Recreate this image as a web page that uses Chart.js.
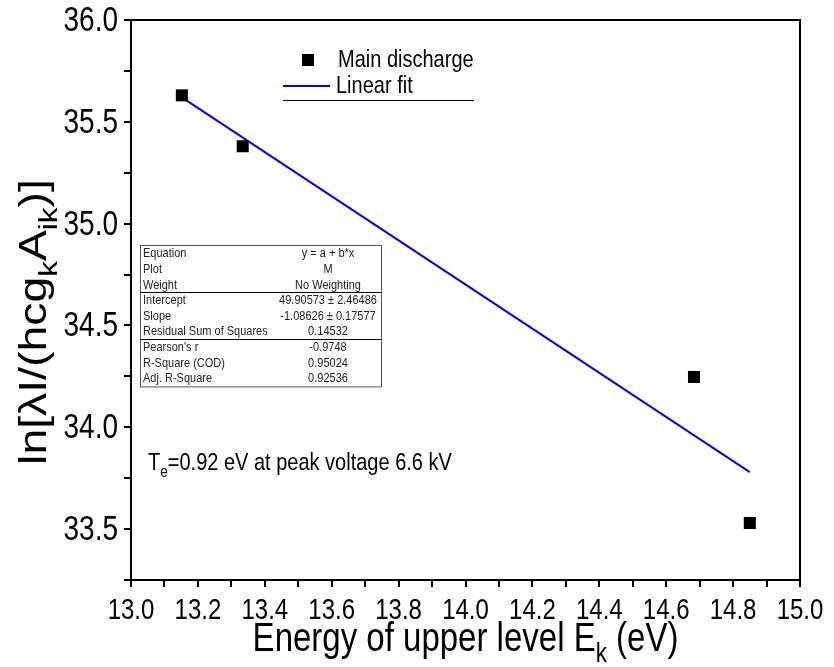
<!DOCTYPE html>
<html>
<head>
<meta charset="utf-8">
<script src="https://cdn.jsdelivr.net/npm/chart.js@4/dist/chart.umd.min.js"></script>
<style>
  html, body { margin: 0; padding: 0; background: #fff; }
  #wrap { width: 834px; height: 667px; }
</style>
</head>
<body>
<div id="wrap"><canvas id="myChart" width="834" height="667"></canvas></div>
<script>
// measured points
const energy = [13.152, 13.334, 14.683, 14.85];
const lnIntensity = [35.63, 35.38, 34.247, 33.53];
// fitted line ends
const fitEnergy = [13.152, 14.85];
const fitLn = [35.62, 33.78];

const xTickLabels = ['13.0', '13.2', '13.4', '13.6', '13.8', '14.0', '14.2', '14.4', '14.6', '14.8', '15.0'];
const yTickLabels = ['33.5', '34.0', '34.5', '35.0', '35.5', '36.0'];

const tableLabels = ['Equation', 'Plot', 'Weight', 'Intercept', 'Slope', 'Residual Sum of Squares', "Pearson's r", 'R-Square (COD)', 'Adj. R-Square'];
const tableValues = ['y = a + b*x', 'M', 'No Weighting', '49.90573 \u00b1 2.46486', '-1.08626 \u00b1 0.17577', '0.14532', '-0.9748', '0.95024', '0.92536'];

const FONT = '"Liberation Sans", Arial, sans-serif';
const STRETCH = 1.22; // the original picture's text is taller than wide

// draws text pieces (some subscript) at the current origin, returns width
const drawParts = (ctx, parts, x, y, size) => {
  parts.forEach(([txt, sub]) => {
    ctx.font = (sub ? size * 0.68 : size) + 'px ' + FONT;
    ctx.fillText(txt, x, sub ? y + size * 0.28 : y);
    x += ctx.measureText(txt).width;
  });
  return x;
};
const partsWidth = (ctx, parts, size) => {
  let w = 0;
  parts.forEach(([txt, sub]) => {
    ctx.font = (sub ? size * 0.68 : size) + 'px ' + FONT;
    w += ctx.measureText(txt).width;
  });
  return w;
};
// tall text: baseline at (x, y), stretched vertically
const tallText = (ctx, parts, x, y, size, align) => {
  const w = partsWidth(ctx, parts, size);
  let x0 = 0;
  if (align === 'center') x0 = -w / 2;
  if (align === 'right') x0 = -w;
  ctx.save();
  ctx.translate(x, y);
  ctx.scale(1, STRETCH);
  ctx.textAlign = 'left';
  drawParts(ctx, parts, x0, 0, size);
  ctx.restore();
};

const extras = {
  id: 'extras',
  afterDraw(chart) {
    const ctx = chart.ctx;
    const a = chart.chartArea;
    const xs = chart.scales.x, ys = chart.scales.y;
    ctx.save();
    ctx.fillStyle = '#000';
    ctx.textBaseline = 'alphabetic';

    // frame
    ctx.strokeStyle = '#000';
    ctx.lineWidth = 2;
    ctx.strokeRect(a.left, a.top, a.right - a.left, a.bottom - a.top);

    // tick labels
    xTickLabels.forEach((t) => {
      tallText(ctx, [[t, false]], xs.getPixelForValue(parseFloat(t)), 619, 24, 'center');
    });
    yTickLabels.forEach((t) => {
      tallText(ctx, [[t, false]], 118, ys.getPixelForValue(parseFloat(t)) + 11, 28, 'right');
    });

    // axis titles
    tallText(ctx, [['Energy of upper level E', false], ['k', true], [' (eV)', false]],
      (a.left + a.right) / 2, 651, 33, 'center');

    const yt = [['ln[\u03bbI/(hcg', false], ['k', true], ['A', false], ['ik', true], [')]', false]];
    const ysz = 38;
    const yw = partsWidth(ctx, yt, ysz) * STRETCH;
    ctx.save();
    ctx.translate(46, 322);
    ctx.rotate(-Math.PI / 2);
    ctx.translate(-yw / 2, 0);
    ctx.scale(STRETCH, 1);
    ctx.textAlign = 'left';
    drawParts(ctx, yt, 0, 0, ysz);
    ctx.restore();

    // legend
    ctx.fillRect(302, 54, 12, 12);
    tallText(ctx, [['Main discharge', false]], 338, 67, 20, 'left');
    ctx.strokeStyle = '#0000ee';
    ctx.lineWidth = 2;
    ctx.beginPath(); ctx.moveTo(283, 86); ctx.lineTo(330, 86); ctx.stroke();
    tallText(ctx, [['Linear fit', false]], 336, 93, 20, 'left');
    ctx.strokeStyle = '#000';
    ctx.lineWidth = 1;
    ctx.beginPath(); ctx.moveTo(283, 100.5); ctx.lineTo(474, 100.5); ctx.stroke();

    // annotation
    tallText(ctx, [['T', false], ['e', true], ['=0.92 eV at peak voltage 6.6 kV', false]], 148, 470, 20, 'left');

    // fit table
    const tx = 140, ty = 245, tw = 241, rh = 15.6;
    ctx.fillStyle = '#fff';
    ctx.fillRect(tx, ty, tw, rh * 9 + 1);
    ctx.strokeStyle = '#555';
    ctx.lineWidth = 1;
    ctx.strokeRect(tx + 0.5, ty + 0.5, tw, rh * 9 + 1);
    ctx.strokeStyle = '#000';
    [3, 6].forEach((r) => {
      ctx.beginPath();
      ctx.moveTo(tx, Math.round(ty + rh * r) + 0.5);
      ctx.lineTo(tx + tw, Math.round(ty + rh * r) + 0.5);
      ctx.stroke();
    });
    ctx.fillStyle = '#222';
    tableLabels.forEach((lab, i) => {
      const yy = ty + rh * i + rh / 2 + 4.5;
      tallText(ctx, [[lab, false]], tx + 3, yy, 11, 'left');
      tallText(ctx, [[tableValues[i], false]], 328, yy, 11, 'center');
    });
    ctx.restore();
  }
};

const config = {
  type: 'scatter',
  data: {
    datasets: [
      {
        label: 'Linear fit',
        type: 'line',
        data: fitEnergy.map((x, i) => ({ x: x, y: fitLn[i] })),
        borderColor: '#0000ee',
        borderWidth: 2,
        pointRadius: 0,
        fill: false,
        order: 2
      },
      {
        label: 'Main discharge',
        data: energy.map((x, i) => ({ x: x, y: lnIntensity[i] })),
        pointStyle: 'rect',
        pointRadius: 8.5,
        backgroundColor: '#000',
        borderColor: '#000',
        borderWidth: 0,
        order: 1
      }
    ]
  },
  options: {
    responsive: false,
    animation: false,
    layout: { padding: { top: 20, right: 34, left: 0, bottom: 0 } },
    plugins: { legend: { display: false }, tooltip: { enabled: false } },
    scales: {
      x: {
        type: 'linear',
        min: 13.0,
        max: 15.0,
        afterBuildTicks: (axis) => {
          const t = [];
          for (let i = 0; i <= 20; i++) t.push({ value: 13 + i * 0.1 });
          axis.ticks = t;
        },
        afterFit: (axis) => { axis.height = 87; },
        ticks: { autoSkip: false, maxRotation: 0, callback: () => '' },
        grid: { drawOnChartArea: false, tickLength: 7, color: '#000', lineWidth: 2 },
        border: { display: false }
      },
      y: {
        type: 'linear',
        min: 33.25,
        max: 36.0,
        afterBuildTicks: (axis) => {
          const t = [];
          for (let i = 0; i <= 11; i++) t.push({ value: 33.25 + i * 0.25 });
          axis.ticks = t;
        },
        afterFit: (axis) => { axis.width = 131; },
        ticks: { autoSkip: false, callback: () => '' },
        grid: { drawOnChartArea: false, tickLength: 7, color: '#000', lineWidth: 2 },
        border: { display: false }
      }
    }
  },
  plugins: [extras]
};

const myChartConfig = new Chart('myChart', config);
</script>
</body>
</html>
